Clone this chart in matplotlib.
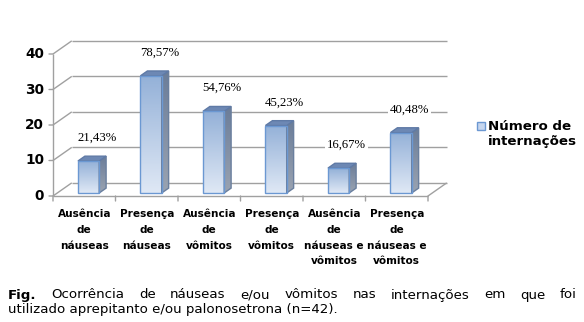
import numpy as np
import matplotlib
matplotlib.use("Agg")
import matplotlib.pyplot as plt
from matplotlib.patches import Polygon, Rectangle
from matplotlib.colors import LinearSegmentedColormap

# Data
categories = ["Ausência\nde\nnáuseas", "Presença\nde\nnáuseas", "Ausência\nde\nvômitos",
              "Presença\nde\nvômitos", "Ausência\nde\nnáuseas e\nvômitos",
              "Presença\nde\nnáuseas e\nvômitos"]
counts = [9, 33, 23, 19, 7, 17]
pct_labels = ["21,43%", "78,57%", "54,76%", "45,23%", "16,67%", "40,48%"]
yticks = [0, 10, 20, 30, 40]
series_name = "Número de\ninternações"

# Oblique 3D look: depth offset in data units
DX, DY = 0.30, 3.7
BAR_W = 0.34
T_FRONT, T_BACK = 0.23, 0.60
GRID = "#a0a0a0"

fig = plt.figure(figsize=(5.84, 3.22), dpi=100)
W, H = 584, 322
ax = fig.add_axes([53 / W, 1 - 196 / H, 375 / W, 142 / H])
ax.set_xlim(0, 6)
ax.set_ylim(0, 40)
ax.axis("off")

front_cmap = LinearSegmentedColormap.from_list("front", ["#dfe8f5", "#94b1d8"])
side_cmap = LinearSegmentedColormap.from_list("side", ["#9aa3b1", "#6b7d99"])


def line(xs, ys, **kw):
    ax.plot(xs, ys, color=GRID, lw=1, clip_on=False, solid_capstyle="butt", **kw)


# back wall gridlines + side wall diagonals
for v in yticks:
    line([DX, 6 + DX], [v + DY, v + DY])
    line([0, DX], [v, v + DY])
# floor
line([0, 6], [0, 0])
line([6, 6 + DX], [0, DY])
# front value axis with ticks
line([0, 0], [0, 40])
for v in yticks:
    ax.annotate("", xy=(0, v), xytext=(-4, 0), textcoords="offset pixels",
                arrowprops=dict(arrowstyle="-", color=GRID, lw=1, shrinkA=0, shrinkB=0))
    ax.annotate(str(v), xy=(0, v), xytext=(-9, 0), textcoords="offset pixels",
                ha="right", va="center", fontsize=9.8, fontweight="heavy", color="#000000")
for i in range(7):
    ax.annotate("", xy=(i, 0), xytext=(0, -5), textcoords="offset pixels",
                arrowprops=dict(arrowstyle="-", color=GRID, lw=1, shrinkA=0, shrinkB=0))


def shaded(poly, cmap, x0, x1, y0, y1, edge):
    patch = Polygon(poly, closed=True, facecolor="none", edgecolor=edge, lw=1,
                    clip_on=False, zorder=4)
    ax.add_patch(patch)
    grad = np.linspace(0, 1, 64).reshape(-1, 1)
    im = ax.imshow(grad, cmap=cmap, extent=[x0, x1, y0, y1], origin="lower",
                   aspect="auto", zorder=3, interpolation="bilinear")
    im.set_clip_path(patch)


# bars
for i, v in enumerate(counts):
    xl = i + 0.5 - BAR_W / 2 + T_FRONT * DX
    xr = xl + BAR_W
    yb = T_FRONT * DY
    yt = v + yb
    ddx = (T_BACK - T_FRONT) * DX
    ddy = (T_BACK - T_FRONT) * DY
    front = [(xl, yb), (xr, yb), (xr, yt), (xl, yt)]
    side = [(xr, yb), (xr + ddx, yb + ddy), (xr + ddx, yt + ddy), (xr, yt)]
    top = [(xl, yt), (xr, yt), (xr + ddx, yt + ddy), (xl + ddx, yt + ddy)]
    shaded(side, side_cmap, xr, xr + ddx, yb, yt + ddy, "#6a7f9e")
    ax.add_patch(Polygon(top, closed=True, facecolor="#6d88b4", edgecolor="#5f7aa6",
                         lw=1, clip_on=False, zorder=4))
    shaded(front, front_cmap, xl, xr, yb, yt, "#6b98d2")

    ax.text(i + 0.7, v + 7.4, pct_labels[i], ha="center", va="center",
            fontsize=9.2, family="Liberation Serif", zorder=6,
            bbox=dict(boxstyle="square,pad=0.15", fc="white", ec="none"))

# category labels
for i, c in enumerate(categories):
    ax.annotate(c, xy=(i + 0.5, 0), xytext=(0, -13), textcoords="offset pixels",
                ha="center", va="top", fontsize=7.6, fontweight="bold",
                linespacing=1.72, color="#000000")

# legend
fig.add_artist(Rectangle((477 / W, 1 - 130 / H), 8 / W, 8 / H, transform=fig.transFigure,
                         facecolor="#c6d6ee", edgecolor="#6b98d2", lw=1))
fig.text(488 / W, 1 - 134 / H, series_name, ha="left", va="center", fontsize=9.6,
         fontweight="bold", linespacing=1.25)

# caption, first line justified
renderer = fig.canvas.get_renderer()
cap_words = ["Fig.", "Ocorrência", "de", "náuseas", "e/ou", "vômitos", "nas",
             "internações", "em", "que", "foi"]
cap_fs = 9.6
texts = []
for j, wd in enumerate(cap_words):
    t = fig.text(0, 1 - 295 / H, wd, ha="left", va="center", fontsize=cap_fs,
                 fontweight="bold" if j == 0 else "normal")
    texts.append(t)
widths = [t.get_window_extent(renderer).width for t in texts]
x_left, x_right = 8, 577
gap = (x_right - x_left - sum(widths)) / (len(texts) - 1)
x = x_left
for t, w in zip(texts, widths):
    t.set_x(x / W)
    x += w + gap
fig.text(x_left / W, 1 - 310 / H, "utilizado aprepitanto e/ou palonosetrona (n=42).",
         ha="left", va="center", fontsize=cap_fs)

fig.savefig("out.png", dpi=100)
